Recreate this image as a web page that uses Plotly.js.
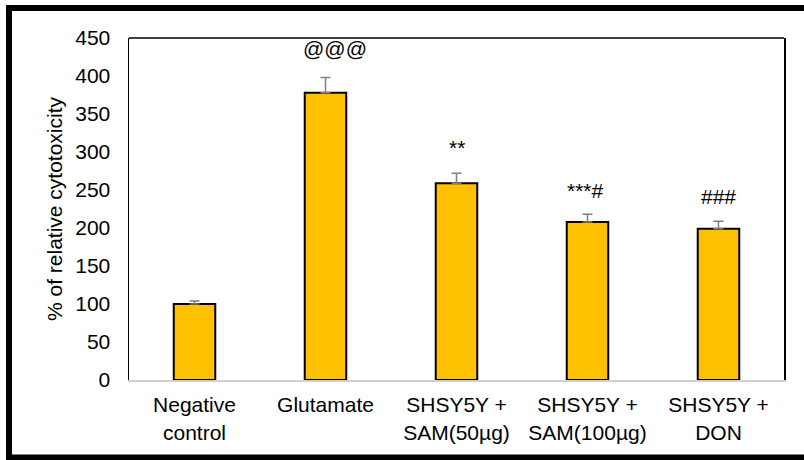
<!DOCTYPE html>
<html>
<head>
<meta charset="utf-8">
<script src="https://cdn.plot.ly/plotly-3.0.1.min.js"></script>
<style>
html,body{margin:0;padding:0;background:#fff;}
#chart{width:804px;height:460px;}
</style>
</head>
<body>
<div id="chart"></div>
<script>
const categories = ["Negative<br>control", "Glutamate", "SHSY5Y +<br>SAM(50µg)", "SHSY5Y +<br>SAM(100µg)", "SHSY5Y +<br>DON"];
const values = [100, 378, 259, 208, 199];
const errors = [4, 20, 13, 10, 10];
const sigLabels = ["", "@@@", "**", "***#", "###"];
const sigY = [0, 436, 306, 250, 242];
const sigShift = [0, 9, 0, -2, 0];
const yTicks = [0, 50, 100, 150, 200, 250, 300, 350, 400, 450];

const FONT = "Liberation Sans, Arial, sans-serif";

const trace = {
  type: "bar",
  x: categories,
  y: values,
  width: 0.317,
  marker: {color: "#FFC000", line: {color: "#000000", width: 2}},
  error_y: {type: "data", array: errors, visible: true, symmetric: false, arrayminus: errors.map(() => 0), color: "#7f7f7f", thickness: 1.5, width: 5},
  hoverinfo: "skip"
};

const annotations = [];
sigLabels.forEach((t, i) => {
  if (!t) return;
  annotations.push({
    x: categories[i], y: sigY[i], xref: "x", yref: "y",
    text: t, showarrow: false, xanchor: "center", yanchor: "middle",
    xshift: sigShift[i],
    font: {family: FONT, size: 21, color: "#000"}
  });
});

const layout = {
  width: 804, height: 460,
  margin: {l: 129, r: 20, t: 38, b: 80},
  paper_bgcolor: "#fff", plot_bgcolor: "#fff",
  showlegend: false,
  font: {family: FONT, size: 21, color: "#000"},
  xaxis: {
    type: "category",
    showline: true, linecolor: "#d0d0d0", linewidth: 2, mirror: false,
    showgrid: false, ticks: "", ticklabelstandoff: 5,
    tickfont: {family: FONT, size: 21, color: "#000"}
  },
  yaxis: {
    range: [0, 450], tickvals: yTicks, showgrid: false, zeroline: false,
    showline: true, linecolor: "#000", linewidth: 1.5, mirror: true,
    ticks: "", ticklabelstandoff: 13,
    tickfont: {family: FONT, size: 21, color: "#000"},
    title: {text: "% of relative cytotoxicity", font: {family: FONT, size: 21, color: "#000"}, standoff: 7}
  },
  shapes: [
    {type: "line", xref: "paper", yref: "paper", x0: 0, x1: 1, y0: 1, y1: 1, line: {color: "#000", width: 1.5}},
    {type: "rect", xref: "paper", yref: "paper", x0: -0.1832, x1: 1.05, y0: -0.2266, y1: 1.0877, line: {color: "#000", width: 6}, fillcolor: "rgba(0,0,0,0)"}
  ],
  annotations: annotations
};

Plotly.newPlot("chart", [trace], layout, {staticPlot: true, displayModeBar: false});
</script>
</body>
</html>
